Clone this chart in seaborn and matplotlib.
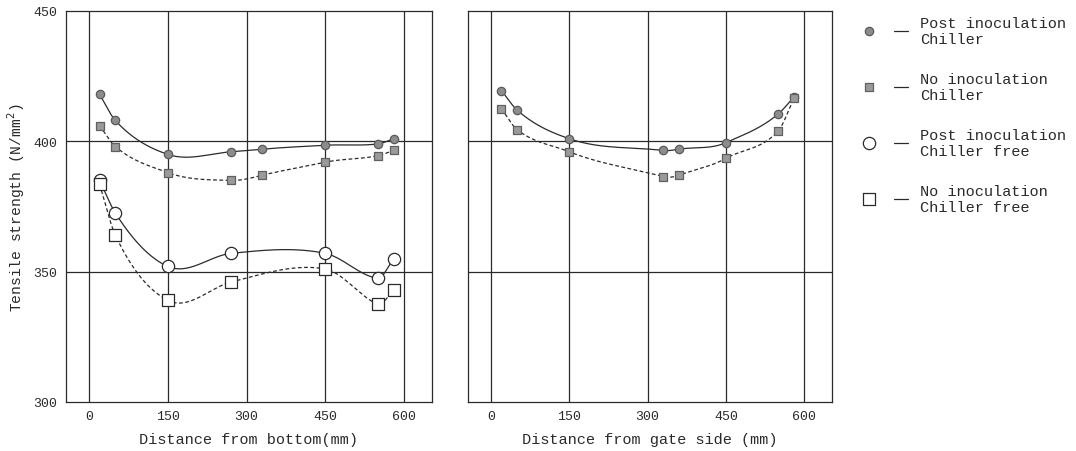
import numpy as np
import pandas as pd
import matplotlib
matplotlib.use("Agg")
import matplotlib.pyplot as plt
import seaborn as sns

# ---------------- data ----------------
# Left panel: distance from bottom (mm)
bottom_x_chiller = [20, 50, 150, 270, 330, 450, 550, 580]
bottom_post_chiller = [418, 408, 395, 396, 397, 398.5, 399, 401]
bottom_no_chiller = [406, 398, 388, 385, 387, 392, 394.5, 396.5]
bottom_x_free = [20, 50, 150, 270, 450, 550, 580]
bottom_post_free = [385, 372.5, 352, 357, 357, 347.5, 355]
bottom_no_free = [383.5, 364, 339, 346, 351, 337.5, 343]

# Right panel: distance from gate side (mm)
gate_x = [20, 50, 150, 330, 360, 450, 550, 580]
gate_post_chiller = [419.5, 412, 401, 396.5, 397, 399.5, 410.5, 417]
gate_no_chiller = [412.5, 404.5, 396, 386.5, 387, 393.5, 404, 416.5]

x_ticks = [0, 150, 300, 450, 600]
y_ticks = [300, 350, 400, 450]
legend_labels = ["Post inoculation\nChiller", "No inoculation\nChiller",
                 "Post inoculation\nChiller free", "No inoculation\nChiller free"]

# ---------------- style ----------------
sns.set_theme(style="white")
plt.rcParams['font.family'] = ['Liberation Mono', 'DejaVu Sans Mono']
INK = "#2a2a2a"


def smooth_curve(x, y, n=60, tension=1.25):
    """Cubic Hermite curve through the data points (Catmull-Rom style tangents)."""
    x = np.asarray(x, float)
    y = np.asarray(y, float)
    k = len(x)
    m = np.zeros(k)
    m[0] = (y[1] - y[0]) / (x[1] - x[0])
    m[-1] = (y[-1] - y[-2]) / (x[-1] - x[-2])
    for i in range(1, k - 1):
        m[i] = tension * (y[i + 1] - y[i - 1]) / (x[i + 1] - x[i - 1])
    xs_all, ys_all = [], []
    for i in range(k - 1):
        h = x[i + 1] - x[i]
        t = np.linspace(0, 1, n)
        h00 = 2 * t ** 3 - 3 * t ** 2 + 1
        h10 = t ** 3 - 2 * t ** 2 + t
        h01 = -2 * t ** 3 + 3 * t ** 2
        h11 = t ** 3 - t ** 2
        xs_all.append(x[i] + t * h)
        ys_all.append(h00 * y[i] + h10 * h * m[i] + h01 * y[i + 1] + h11 * h * m[i + 1])
    return np.concatenate(xs_all), np.concatenate(ys_all)


STYLES = {
    "post_chiller": dict(marker="o", s=36, fc="#8c8c8c", ec="#5a5a5a", ls="-"),
    "no_chiller": dict(marker="s", s=40, fc="#9a9a9a", ec="#606060", ls=(0, (3, 2))),
    "post_free": dict(marker="o", s=78, fc="white", ec=INK, ls="-"),
    "no_free": dict(marker="s", s=66, fc="white", ec=INK, ls=(0, (3, 2))),
}


def draw_series(ax, x, y, key):
    st = STYLES[key]
    xs, ys = smooth_curve(x, y)
    sns.lineplot(x=xs, y=ys, ax=ax, color=INK, linewidth=0.9, linestyle=st["ls"],
                 sort=False, estimator=None, legend=False, zorder=2)
    sns.scatterplot(x=x, y=y, ax=ax, marker=st["marker"], s=st["s"],
                    facecolor=st["fc"], edgecolor=st["ec"], linewidth=0.9,
                    legend=False, zorder=3)


fig = plt.figure(figsize=(10.76, 4.52), dpi=100)
ax1 = fig.add_axes([66 / 1076, 1 - 403 / 452, 366 / 1076, 391 / 452])
ax2 = fig.add_axes([468 / 1076, 1 - 403 / 452, 364 / 1076, 391 / 452])

for ax in (ax1, ax2):
    ax.set_xlim(-44, 653)
    ax.set_ylim(300, 450)
    ax.set_xticks(x_ticks)
    ax.set_yticks(y_ticks)
    for xv in x_ticks:
        ax.axvline(xv, color=INK, linewidth=0.9, zorder=1)
    for yv in (350, 400):
        ax.axhline(yv, color=INK, linewidth=0.9, zorder=1)
    for sp in ax.spines.values():
        sp.set_color(INK)
        sp.set_linewidth(0.9)
        sp.set_visible(True)
    ax.tick_params(axis="x", length=0, pad=6, labelsize=9.5, colors=INK)
    ax.tick_params(axis="y", length=2, width=0.9, pad=4, labelsize=9.5, colors=INK)
    ax.grid(False)

draw_series(ax1, bottom_x_chiller, bottom_post_chiller, "post_chiller")
draw_series(ax1, bottom_x_chiller, bottom_no_chiller, "no_chiller")
draw_series(ax1, bottom_x_free, bottom_post_free, "post_free")
draw_series(ax1, bottom_x_free, bottom_no_free, "no_free")
draw_series(ax2, gate_x, gate_post_chiller, "post_chiller")
draw_series(ax2, gate_x, gate_no_chiller, "no_chiller")

ax1.set_xlabel("Distance from bottom(mm)", fontsize=11, color=INK, labelpad=7)
ax1.set_ylabel("Tensile strength (N/mm$^2$)", fontsize=10.5, color=INK, labelpad=5)
ax2.set_xlabel("Distance from gate side (mm)", fontsize=11, color=INK, labelpad=7)
ax2.set_yticklabels([])
ax2.tick_params(axis="y", length=0)

# ---------------- legend (pixel coordinates overlay) ----------------
lax = fig.add_axes([0, 0, 1, 1])
lax.set_xlim(0, 1076)
lax.set_ylim(452, 0)
lax.axis("off")
keys = ["post_chiller", "no_chiller", "post_free", "no_free"]
ys_leg = [32, 88, 144, 200]
for key, yl, lab in zip(keys, ys_leg, legend_labels):
    st = STYLES[key]
    lax.scatter([869], [yl], marker=st["marker"], s=st["s"], facecolor=st["fc"],
                edgecolor=st["ec"], linewidth=0.9)
    lax.plot([894, 908], [yl, yl], color=INK, linewidth=0.9)
    lax.text(920, yl, lab, fontsize=11, color=INK, va="center", ha="left",
             linespacing=1.25)

fig.savefig("out.png", dpi=100)
